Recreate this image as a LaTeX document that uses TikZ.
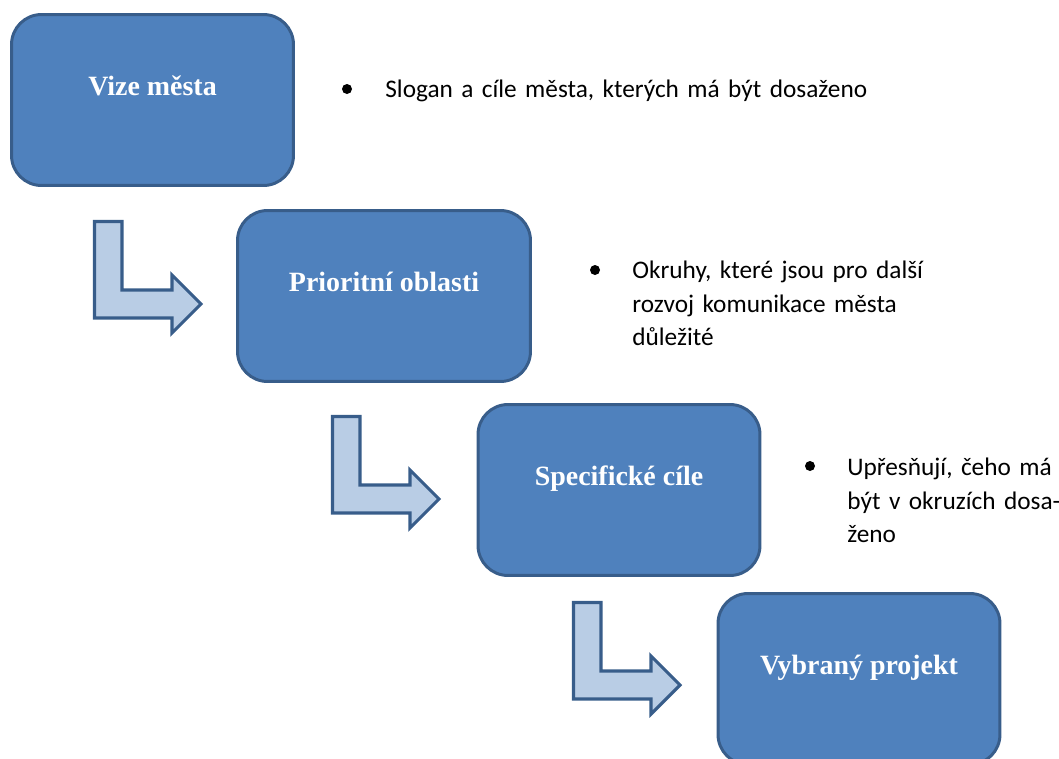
\documentclass[tikz,border=0pt]{standalone}
\usepackage{fontspec}
\setmainfont{Liberation Serif}
\newfontfamily\notefont{Carlito}
\usepackage{tikz}
\usetikzlibrary{positioning}
\definecolor{boxblue}{RGB}{79,129,189}
\definecolor{boxedge}{RGB}{56,93,138}
\definecolor{arrowfill}{RGB}{185,205,229}
\tikzset{
  stagebox/.style={rectangle, draw=boxedge, fill=boxblue, line width=1.7pt,
    rounded corners=0.6cm, minimum width=5.64cm, minimum height=3.42cm,
    text height=0.38cm, text depth=0.58cm, text=white,
    font=\fontsize{15.9}{19}\selectfont\bfseries},
  notetext/.style={anchor=base west, inner sep=0pt, text width=14cm, align=left,
    font=\notefont\fontsize{14.4}{19.35}\selectfont},
  bulletdot/.style={circle, fill=black, inner sep=0pt, minimum size=0.2cm},
  bentarrow/.pic={
    \path[draw=boxedge, fill=arrowfill, line width=1.8pt, line join=miter]
      (1.5,1.5) -- (29,1.5) -- (29,70) -- (79,70) -- (79,55) -- (108,84)
      -- (79,113) -- (79,98) -- (1.5,98) -- cycle;
  }
}
\begin{document}
\begin{tikzpicture}[x=0.02cm, y=-0.02cm]
  \useasboundingbox (0,0) rectangle (1059,758);

  \node[stagebox] (vize) at (152.5,100) {Vize města};
  \node[stagebox, minimum width=5.86cm] (oblasti) at (384,296) {Prioritní oblasti};
  \node[stagebox] (cile) at (619,490) {Specifické cíle};
  \node[stagebox] (projekt) at (859,679) {Vybraný projekt};

  \pic (arr1) at (93,220) {bentarrow};
  \pic (arr2) at (331,415) {bentarrow};
  \pic (arr3) at (572,601) {bentarrow};

  \node[bulletdot] (dot1) at (347,89) {};
  \node[notetext] (note1) at (385,97) {Slogan a cíle města, kterých má být dosaženo};
  \node[bulletdot] (dot2) at (595,270) {};
  \node[notetext] (note2) at (632,278) {Okruhy, které jsou pro další\\rozvoj komunikace města\\důležité};
  \node[bulletdot] (dot3) at (810,466) {};
  \node[notetext] (note3) at (847,475) {Upřesňují, čeho má\\být v okruzích dosa-\\ženo};
\end{tikzpicture}
\end{document}
